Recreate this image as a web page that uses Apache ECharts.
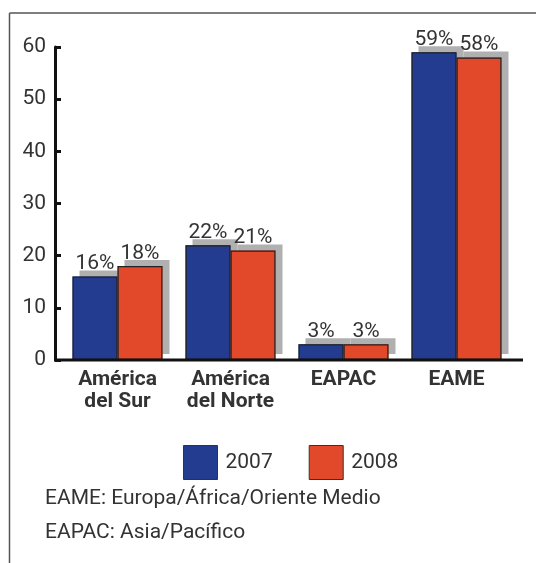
<!DOCTYPE html>
<html>
<head>
<meta charset="utf-8">
<script src="https://cdn.jsdelivr.net/npm/echarts@6/dist/echarts.min.js"></script>
<style>
html,body{margin:0;padding:0;background:#fff;}
#chart{width:536px;height:563px;}
</style>
</head>
<body>
<div id="chart"></div>
<script>
const categories = ['Am\u00e9rica\ndel Sur', 'Am\u00e9rica\ndel Norte', 'EAPAC', 'EAME'];
const series2007 = [16, 22, 3, 59];
const series2008 = [18, 21, 3, 58];
const seriesNames = ['2007', '2008'];
const yTicks = [0, 10, 20, 30, 40, 50, 60];
const notes = ['EAME: Europa/\u00c1frica/Oriente Medio', 'EAPAC: Asia/Pac\u00edfico'];

const FONT = 'Roboto, "Liberation Sans", sans-serif';
const TXT = '#333333';
const BLUE = '#243c90';
const RED = '#e2492a';

const chart = echarts.init(document.getElementById('chart'), null, {renderer: 'canvas'});

function barSeries(name, data, color) {
  return {
    name: name,
    type: 'bar',
    xAxisIndex: 0,
    data: data,
    barWidth: 45,
    barGap: '0%',
    itemStyle: {
      color: color,
      shadowColor: '#b0b0b0',
      shadowBlur: 0,
      shadowOffsetX: 7,
      shadowOffsetY: -6
    },
    label: {
      show: true,
      position: 'top',
      distance: 2,
      formatter: '{c}%',
      color: TXT,
      fontFamily: FONT,
      fontSize: 21
    },
    emphasis: {disabled: true}
  };
}

function outlineSeries(data) {
  return {
    type: 'bar',
    xAxisIndex: 1,
    data: data,
    barWidth: 45,
    barGap: '0%',
    z: 3,
    itemStyle: {color: 'rgba(0,0,0,0)', borderColor: '#222', borderWidth: 1.2},
    label: {show: false},
    emphasis: {disabled: true},
    silent: true
  };
}

const option = {
  animation: false,
  backgroundColor: '#fff',
  textStyle: {fontFamily: FONT},
  grid: {left: 61, right: 23, top: 47, bottom: 203, containLabel: false},
  legend: {
    data: seriesNames,
    left: 178,
    top: 440,
    itemWidth: 34,
    itemHeight: 34,
    itemGap: 36,
    icon: 'rect',
    itemStyle: {borderColor: '#333', borderWidth: 1, shadowBlur: 0, shadowOffsetX: 0, shadowOffsetY: 0, shadowColor: 'transparent'},
    textStyle: {color: TXT, fontFamily: FONT, fontSize: 21, padding: [0, 0, 0, 3]},
    selectedMode: false
  },
  xAxis: [{
    type: 'category',
    data: categories,
    axisLine: {show: false},
    axisTick: {show: false},
    axisLabel: {
      interval: 0,
      color: TXT,
      fontFamily: FONT,
      fontWeight: 'bold',
      fontSize: 21,
      lineHeight: 22,
      margin: 9
    }
  }, {
    type: 'category',
    data: categories,
    show: false
  }],
  yAxis: {
    type: 'value',
    min: 0,
    max: 60,
    interval: 10,
    offset: 6,
    splitLine: {show: false},
    axisLine: {show: true, lineStyle: {color: '#111', width: 3}},
    axisTick: {show: true, inside: true, length: 6, lineStyle: {color: '#111', width: 3}},
    axisLabel: {color: TXT, fontFamily: FONT, fontSize: 21, margin: 9}
  },
  series: [
    barSeries(seriesNames[0], series2007, BLUE),
    barSeries(seriesNames[1], series2008, RED),
    outlineSeries(series2007),
    outlineSeries(series2008)
  ]
};

chart.setOption(option);

const y0 = chart.convertToPixel({yAxisIndex: 0}, yTicks[0]);
chart.setOption({
  graphic: [
    {type: 'line', shape: {x1: 9.5, y1: 13, x2: 536, y2: 13}, style: {stroke: '#555', lineWidth: 1.5}},
    {type: 'line', shape: {x1: 9.5, y1: 13, x2: 9.5, y2: 563}, style: {stroke: '#555', lineWidth: 1.5}},
    {type: 'line', z: 10, shape: {x1: 54, y1: y0, x2: 523, y2: y0}, style: {stroke: '#111', lineWidth: 3}},
    {type: 'text', left: 45, top: 488, style: {text: notes[0], fill: TXT, font: '21px ' + FONT}},
    {type: 'text', left: 45, top: 522, style: {text: notes[1], fill: TXT, font: '21px ' + FONT}}
  ]
});
</script>
</body>
</html>
